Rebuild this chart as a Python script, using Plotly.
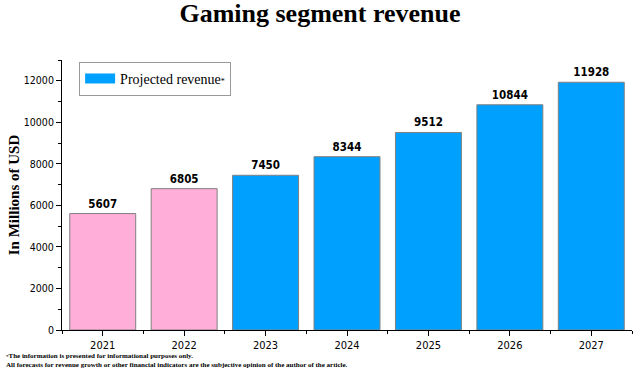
import plotly.graph_objects as go

years = ["2021", "2022", "2023", "2024", "2025", "2026", "2027"]
revenue = [5607, 6805, 7450, 8344, 9512, 10844, 11928]
actual_years = 2
y_ticks = [0, 2000, 4000, 6000, 8000, 10000, 12000]
pink = "#FFAED9"
blue = "#00A0FF"

x_pos = list(range(len(years)))
colors = [pink if i < actual_years else blue for i in x_pos]
tick_font = "DejaVu Sans Condensed, DejaVu Sans"

fig = go.Figure()
fig.add_trace(go.Bar(
    x=x_pos, y=revenue, width=0.81,
    marker=dict(color=colors, line=dict(color="#808080", width=1)),
    text=[str(v) for v in revenue], textposition="outside",
    textfont=dict(family=tick_font, size=11.5, color="black", weight="bold"),
    cliponaxis=False, showlegend=False, hoverinfo="x+y",
))
fig.add_trace(go.Scatter(
    x=[None], y=[None], mode="lines",
    name="Projected revenue<span style='font-size:8px'>*</span>",
    line=dict(color=blue, width=14), showlegend=True,
))

fig.update_layout(
    width=640, height=374,
    margin=dict(l=62, r=8, t=60, b=44),
    plot_bgcolor="white", paper_bgcolor="white",
    title=dict(text="<b>Gaming segment revenue</b>", x=0.5, xanchor="center", y=0.99, yanchor="top",
               font=dict(family="Liberation Serif", size=26, color="black")),
    legend=dict(x=0.03, y=0.993, xanchor="left", yanchor="top",
                bordercolor="#999999", borderwidth=1, bgcolor="white",
                font=dict(family="Liberation Serif", size=14, color="black"),
                itemwidth=30),
)
fig.update_xaxes(
    range=[-0.5, 6.5], tickvals=x_pos, ticktext=years,
    showline=True, linecolor="black", linewidth=1, mirror=False,
    ticks="outside", ticklen=5, tickcolor="black", showgrid=False, zeroline=False,
    tickfont=dict(family=tick_font, size=11, color="black"),
    minor=dict(tickvals=[i - 0.5 for i in range(len(years) + 1)], ticks="outside", ticklen=3, tickcolor="black"),
)
fig.update_yaxes(
    range=[0, 13000], tickvals=y_ticks, ticktext=[str(v) for v in y_ticks],
    showline=True, linecolor="black", linewidth=1,
    ticks="outside", ticklen=5, tickcolor="black", showgrid=False, zeroline=False,
    tickfont=dict(family=tick_font, size=10.5, color="black"),
    minor=dict(dtick=1000, ticks="outside", ticklen=3, tickcolor="black"),
    title=dict(text="<b>In Millions of USD</b>", standoff=0,
               font=dict(family="Liberation Serif", size=15, color="black")),
)
fig.add_annotation(
    xref="paper", yref="paper", x=-0.101, y=-0.075, xanchor="left", yanchor="top", showarrow=False, align="left",
    text="<b><span style='font-size:5px'>*</span>The information is presented for informational purposes only.<br>"
         "All forecasts for revenue growth or other financial indicators are the subjective opinion of the author of the article.</b>",
    font=dict(family="Liberation Serif", size=7, color="black"),
)
fig.write_html("out.html", post_script="document.body.style.margin='0';",
               config={"displayModeBar": False})
